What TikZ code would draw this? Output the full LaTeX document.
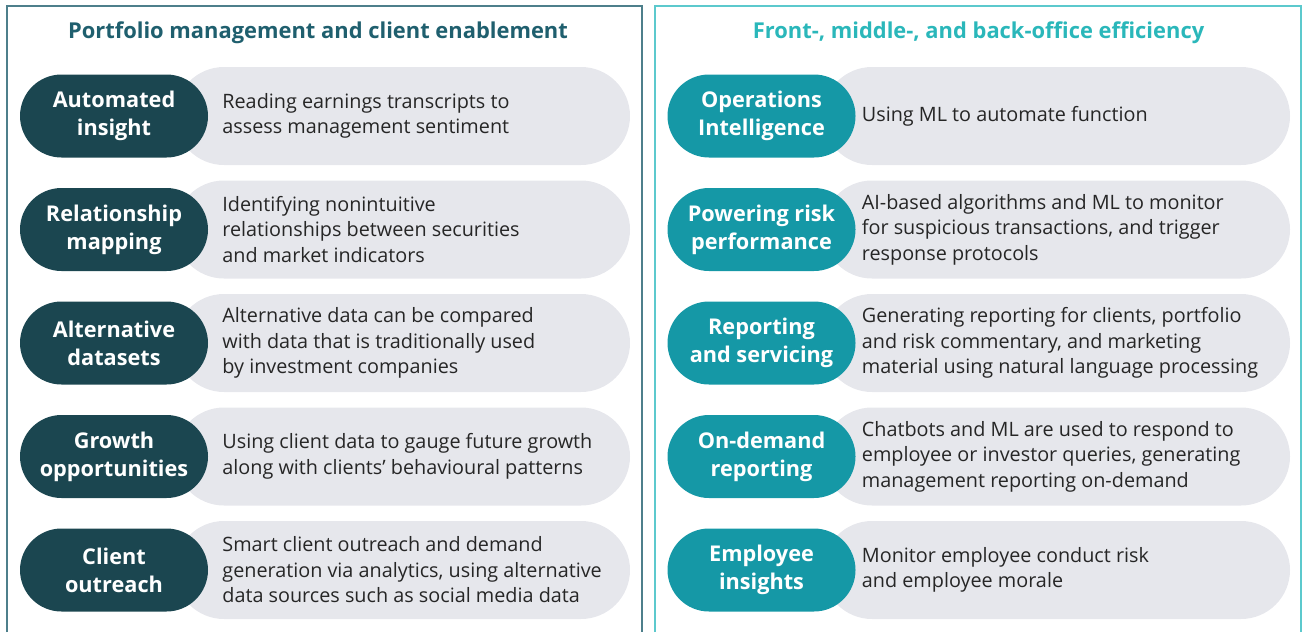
\documentclass[tikz,border=0pt]{standalone}
\usepackage{fontspec}
\setmainfont{Open Sans}
\definecolor{pmdark}{HTML}{1B4650}
\definecolor{pmframe}{HTML}{4D7F8B}
\definecolor{pmtitle}{HTML}{1F5F6E}
\definecolor{fotteal}{HTML}{1598A6}
\definecolor{fotframe}{HTML}{5CC9CD}
\definecolor{fottitle}{HTML}{2AB7BA}
\definecolor{pillgray}{HTML}{E6E7EC}
\definecolor{desctext}{HTML}{262626}
\tikzset{
  keypill/.style={fill=#1, text=white, minimum width=188pt, minimum height=83pt,
    rounded corners=41.5pt, align=center, inner sep=0pt,
    font=\fontsize{21.7}{28}\selectfont\bfseries},
  backpill/.style={fill=pillgray, minimum height=98pt, rounded corners=49pt, inner sep=0pt},
  desc/.style={anchor=west, align=left, text=desctext, inner sep=0pt,
    font=\fontsize{19.8}{25.5}\selectfont},
  paneltitle/.style={text=#1, font=\fontsize{21.9}{25}\selectfont\bfseries},
}
\begin{document}
\begin{tikzpicture}[x=1pt,y=-1pt]
  \useasboundingbox (0,0) rectangle (1305,632);
  % panel frames, open at the bottom
  \draw[pmframe,line width=1.5pt] (7,632) -- (7,6) -- (642,6) -- (642,632);
  \draw[fotframe,line width=1.5pt] (655,632) -- (655,6) -- (1301,6) -- (1301,632);
  \node[paneltitle=pmtitle] (lefttitle) at (318,32.5) {Portfolio management and client enablement};
  \node[paneltitle=fottitle] (righttitle) at (978.5,32.5) {Front-, middle-, and back-office efficiency};
  % left column
  \foreach \key/\txt [count=\i] in {
      {Automated\\insight}/{Reading earnings transcripts to\\assess management sentiment},
      {Relationship\\mapping}/{Identifying nonintuitive\\relationships between securities\\and market indicators},
      {Alternative\\datasets}/{Alternative data can be compared\\with data that is traditionally used\\by investment companies},
      {Growth\\opportunities}/{Using client data to gauge future growth\\along with clients’ behavioural patterns},
      {Client\\outreach}/{Smart client outreach and demand\\generation via analytics, using alternative\\data sources such as social media data}}{
    \node[backpill,minimum width=455pt] (lb\i) at (402.5,{2.5+113.5*\i}) {};
    \node[keypill=pmdark] (lk\i) at (114,{2.5+113.5*\i}) {\key};
    \node[desc] (lt\i) at ([xshift=14pt]lk\i.east) {\txt};
  }
  % right column
  \foreach \key/\txt [count=\i] in {
      {Operations\\Intelligence}/{Using ML to automate function},
      {Powering risk\\performance}/{AI-based algorithms and ML to monitor\\for suspicious transactions, and trigger\\response protocols},
      {Reporting\\and servicing}/{Generating reporting for clients, portfolio\\and risk commentary, and marketing\\material using natural language processing},
      {On-demand\\reporting}/{Chatbots and ML are used to respond to\\employee or investor queries, generating\\management reporting on-demand},
      {Employee\\insights}/{Monitor employee conduct risk\\and employee morale}}{
    \node[backpill,minimum width=467pt] (rb\i) at (1056.5,{2.5+113.5*\i}) {};
    \node[keypill=fotteal] (rk\i) at (761.5,{2.5+113.5*\i}) {\key};
    \node[desc] (rt\i) at ([xshift=6pt]rk\i.east) {\txt};
  }
\end{tikzpicture}
\end{document}
